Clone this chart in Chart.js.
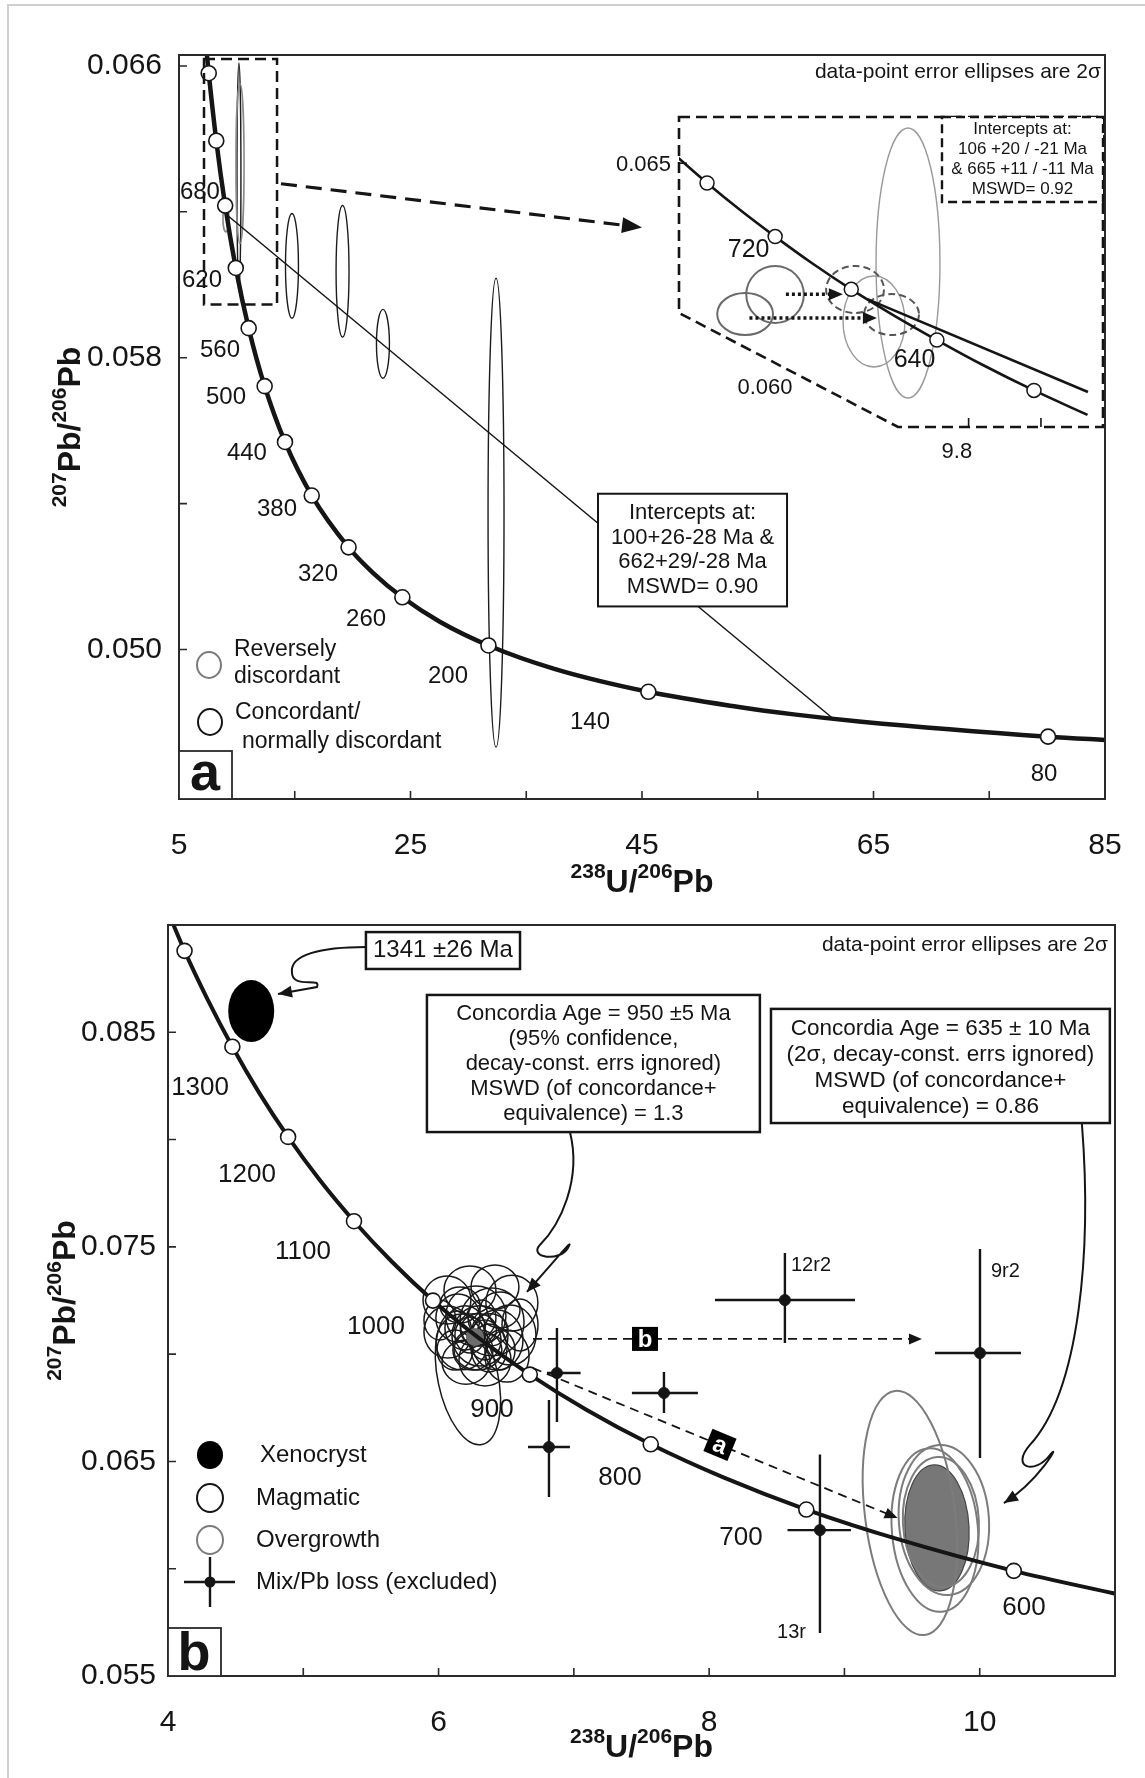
<!DOCTYPE html>
<html>
<head>
<meta charset="utf-8">
<title>Tera-Wasserburg concordia diagrams</title>
<script src="https://cdn.jsdelivr.net/npm/chart.js@4.4.1/dist/chart.umd.min.js"></script>
<style>
  html, body { margin: 0; padding: 0; background: #fff; }
  body { position: relative; width: 1145px; height: 1778px; overflow: hidden; }
  canvas { position: absolute; }
  #edge { position: absolute; left: 7px; top: 4px; width: 1160px; height: 1800px; border-left: 2px solid #cfcfcf; border-top: 2px solid #cfcfcf; }
</style>
</head>
<body>
<div id="edge"></div>
<canvas id="chartA" width="1145" height="900" style="left:0;top:0"></canvas>
<canvas id="chartB" width="1145" height="878" style="left:0;top:900px"></canvas>
<canvas id="inset" width="520" height="370" style="left:590px;top:100px"></canvas>
<script>
const FONT = '"Liberation Sans", Arial, Helvetica, sans-serif';
const INK = '#151515';

// ---------- panel a ----------
const xTicksA = [5, 15, 25, 35, 45, 55, 65, 75, 85];
const xLabelsA = [5, 25, 45, 65, 85];
const yTicksA = [0.050, 0.054, 0.058, 0.062, 0.066];
const yLabelsA = [0.050, 0.058, 0.066];

// concordia (238U/206Pb, 207Pb/206Pb)
const curveXA = [7.372, 7.568, 8.221, 8.989, 9.905, 11.019, 12.399, 14.157, 16.469, 19.649, 21.733, 24.297, 27.531, 31.735, 37.423, 45.55, 53.223, 58.105, 63.967, 80.08, 85.45];
const curveYA = [0.06643, 0.06580, 0.06395, 0.06217, 0.06046, 0.05881, 0.05722, 0.05569, 0.05422, 0.05280, 0.05211, 0.05143, 0.05076, 0.05011, 0.04947, 0.04884, 0.04843, 0.04822, 0.04802, 0.04761, 0.04751];
// age ticks on the curve
const markXA = [7.568, 8.221, 8.989, 9.905, 11.019, 12.399, 14.157, 16.469, 19.649, 24.297, 31.735, 45.55, 80.08];
const markYA = [0.06580, 0.06395, 0.06217, 0.06046, 0.05881, 0.05722, 0.05569, 0.05422, 0.05280, 0.05143, 0.05011, 0.04884, 0.04761];
const ageTextA = ['680', '620', '560', '500', '440', '380', '320', '260', '200', '140', '80'];
const ageTextXA = [6.81, 6.99, 8.54, 9.06, 10.87, 13.47, 17.01, 21.16, 28.24, 40.51, 79.73];
const ageTextYA = [0.06253, 0.06012, 0.05820, 0.05692, 0.05539, 0.05383, 0.05205, 0.05082, 0.04926, 0.04800, 0.04658];

// discordia
const discXA = [9.2, 61.6];
const discYA = [0.0619, 0.04808];

// 2 sigma ellipses: centre and half axes
const ellXA = [14.76, 19.13, 22.62, 32.39, 10.18];
const ellYA = [0.06052, 0.06037, 0.05838, 0.05375, 0.06299];
const ellRxA = [0.56, 0.56, 0.56, 0.69, 0.17];
const ellRyA = [0.001436, 0.001805, 0.000944, 0.006428, 0.00309];
const revXA = [10.27, 9.06];
const revYA = [0.06332, 0.06181];
const revRxA = [0.35, 0.26];
const revRyA = [0.00219, 0.00036];

// zoom window and pointer
const winXA = [7.16, 13.47], winYA = [0.05946, 0.06619];
const ptrXA = [13.81, 45.0], ptrYA = [0.06277, 0.06157];
const boxXA = [41.20, 57.53], boxYA = [0.05118, 0.05427];
const boxTextA = ['Intercepts at:', '100+26-28 Ma &', '662+29/-28 Ma', 'MSWD= 0.90'];

// ---------- inset of panel a ----------
const inXRange = [7.798, 10.729];
const inYRange = [0.05908, 0.06604];
const inOutlineX = [7.798, 10.729, 10.729, 9.312, 7.798];
const inOutlineY = [0.06604, 0.06604, 0.05908, 0.05908, 0.06164];
const inCurveX = [7.7746, 7.9919, 8.2211, 8.4627, 8.7183, 8.9888, 9.2759, 9.5807, 9.9054, 10.2518, 10.622];
const inCurveY = [0.065175, 0.064559, 0.063951, 0.063355, 0.062757, 0.062171, 0.061600, 0.061033, 0.060461, 0.059901, 0.059352];
const inMarkX = [7.9919, 8.4627, 8.9888, 9.5807, 10.2518];
const inMarkY = [0.064559, 0.063355, 0.062171, 0.061033, 0.059901];
const inDiscX = [9.1, 10.625];
const inDiscY = [0.06195, 0.059865];
const inLightX = [9.381, 9.146], inLightY = [0.062762, 0.061448], inLightRx = [0.221, 0.214], inLightRy = [0.003032, 0.001022];
const inDarkX = [8.462, 8.255], inDarkY = [0.062055, 0.061617], inDarkRx = [0.199, 0.193], inDarkRy = [0.00064, 0.000472];
const inDashX = [9.015, 9.267], inDashY = [0.062167, 0.061606], inDashRx = [0.200, 0.190], inDashRy = [0.000528, 0.00046];
const inArrX0 = [8.537, 8.285], inArrX1 = [8.931, 9.166], inArrY = [0.06206, 0.06153];
const inBoxX = [9.616, 10.729], inBoxY = [0.06413, 0.06604];
const inBoxText = ['Intercepts at:', '106 +20 / -21 Ma', '& 665 +11 / -11 Ma', 'MSWD= 0.92'];
const inAgeText = ['720', '640'], inAgeX = [8.279, 9.426], inAgeY = [0.06305, 0.06058];

// ---------- panel b ----------
const xTicksB = [4, 5, 6, 7, 8, 9, 10, 11];
const xLabelsB = [4, 6, 8, 10];
const yTicksB = [0.055, 0.060, 0.065, 0.070, 0.075, 0.080, 0.085, 0.090];
const yLabelsB = [0.055, 0.065, 0.075, 0.085];

const curveXB = [3.9643, 4.1223, 4.2923, 4.4758, 4.6730, 4.8877, 5.1203, 5.3748, 5.6533, 5.9589, 6.2980, 6.6743, 7.0953, 7.5683, 8.1051, 8.7183, 9.4260, 10.2518, 11.019];
const curveYB = [0.091159, 0.088796, 0.086537, 0.084327, 0.082190, 0.080124, 0.078123, 0.076194, 0.074317, 0.072495, 0.070744, 0.069047, 0.067398, 0.065800, 0.064256, 0.062757, 0.061318, 0.059901, 0.058810];
const markXB = [4.1223, 4.4758, 4.8877, 5.3748, 5.9589, 6.6743, 7.5683, 8.7183, 10.2518];
const markYB = [0.088796, 0.084327, 0.080124, 0.076194, 0.072495, 0.069047, 0.065800, 0.062757, 0.059901];
const ageTextB = ['1300', '1200', '1100', '1000', '900', '800', '700', '600'];
const ageTextXB = [4.237, 4.584, 4.998, 5.537, 6.395, 7.341, 8.235, 10.327];
const ageTextYB = [0.08240, 0.07835, 0.07476, 0.07126, 0.06740, 0.06423, 0.06143, 0.05817];

// xenocryst
const xenoX = 4.615, xenoY = 0.08599, xenoRx = 0.170, xenoRy = 0.001445;
// magmatic analyses
const magX = [6.062, 6.232, 6.417, 6.542, 6.602, 6.069, 6.173, 6.306, 6.432, 6.506, 6.343, 6.203, 6.276, 6.395, 6.143, 6.010, 6.454, 6.254, 6.373, 6.121, 6.528, 6.295,
  6.232, 6.343, 6.195, 6.380, 6.291, 6.158, 6.454, 6.321, 6.217];
const magY = [0.07252, 0.07299, 0.07313, 0.07238, 0.07136, 0.07103, 0.07057, 0.07085, 0.07066, 0.06991, 0.06973, 0.06963, 0.07178, 0.07150, 0.07168, 0.07159, 0.07206, 0.07019, 0.07029, 0.07019, 0.07089, 0.07113,
  0.07089, 0.07066, 0.07122, 0.07113, 0.07019, 0.07229, 0.07019, 0.07168, 0.06889];
const magRx = [0.177, 0.192, 0.177, 0.192, 0.133, 0.177, 0.192, 0.207, 0.192, 0.163, 0.192, 0.177, 0.222, 0.237, 0.163, 0.118, 0.148, 0.148, 0.133, 0.133, 0.192, 0.133,
  0.111, 0.118, 0.148, 0.133, 0.177, 0.148, 0.111, 0.103, 0.222];
const magRy = [0.00112, 0.00112, 0.00103, 0.00130, 0.00121, 0.00121, 0.00130, 0.00140, 0.00140, 0.00121, 0.00121, 0.00103, 0.00140, 0.00158, 0.00112, 0.00093, 0.00084, 0.00093, 0.00112, 0.00093, 0.00140, 0.00075,
  0.00084, 0.00093, 0.00103, 0.00075, 0.00093, 0.00084, 0.00093, 0.00084, 0.00317];
const magRot = [0, 0, 0, 0, 0, 0, 0, 0, 0, 0, 0, 0, 0, 0, 0, 0, 0, 0, 0, 0, 0, 0, 0, 0, 0, 0, 0, 0, 0, 0, -12];
const meanMagX = 6.269, meanMagY = 0.07080, meanMagRx = 0.067, meanMagRy = 0.00042;
// overgrowth analyses
const ovX = [9.484, 9.735, 9.669, 9.713];
const ovY = [0.06260, 0.06227, 0.06180, 0.06218];
const ovRx = [0.333, 0.333, 0.318, 0.281];
const ovRy = [0.00573, 0.00350, 0.00382, 0.00303];
const ovRot = [-7, -4, -5, -3];
const meanOvX = 9.684, meanOvY = 0.06190, meanOvRx = 0.237, meanOvRy = 0.00294;
// mixed / Pb loss, with error bars
const mixX = [6.875, 7.666, 6.816, 8.560, 10.002, 8.819];
const mixY = [0.06912, 0.06819, 0.06567, 0.07252, 0.07005, 0.06180];
const mixXlo = [6.801, 7.429, 6.661, 8.043, 9.669, 8.579];
const mixXhi = [7.05, 7.917, 6.971, 9.078, 10.305, 9.048];
const mixYlo = [0.06684, 0.06726, 0.06334, 0.07052, 0.06516, 0.05700];
const mixYhi = [0.07122, 0.06917, 0.06786, 0.07471, 0.07490, 0.06532];
const mixName = ['12r2', '9r2', '13r'];
const mixNameX = [8.605, 10.083, 8.716];
const mixNameY = [0.07415, 0.07383, 0.05705];

const box1341 = { x: [5.463, 6.602], y: [0.08795, 0.08967], text: ['1341 \u00b126 Ma'] };
const box950 = { x: [5.914, 8.375], y: [0.08035, 0.08674],
  text: ['Concordia Age = 950 \u00b15 Ma', '(95% confidence,', 'decay-const. errs ignored)', 'MSWD (of concordance+', 'equivalence) = 1.3'] };
const box635 = { x: [8.457, 10.962], y: [0.08077, 0.08609],
  text: ['Concordia Age = 635 \u00b1 10 Ma', '(2\u03c3, decay-const. errs ignored)', 'MSWD (of concordance+', 'equivalence) = 0.86'] };

// ---------- helpers ----------
function P(c, x, y) { return [c.scales.x.getPixelForValue(x), c.scales.y.getPixelForValue(y)]; }

function ell(c, x, y, rx, ry, rot, st) {
  const ctx = c.ctx;
  const [px, py] = P(c, x, y);
  const w = Math.abs(c.scales.x.getPixelForValue(x + rx) - px);
  const h = Math.abs(c.scales.y.getPixelForValue(y + ry) - py);
  ctx.save();
  ctx.beginPath();
  ctx.ellipse(px, py, w, h, rot * Math.PI / 180, 0, Math.PI * 2);
  if (st.fill) { ctx.fillStyle = st.fill; ctx.fill(); }
  if (st.stroke) { ctx.strokeStyle = st.stroke; ctx.lineWidth = st.width || 1; ctx.setLineDash(st.dash || []); ctx.stroke(); }
  ctx.restore();
}

function head(ctx, x1, y1, x2, y2, len, half) {
  const a = Math.atan2(y2 - y1, x2 - x1), ca = Math.cos(a), sa = Math.sin(a);
  ctx.beginPath();
  ctx.moveTo(x2, y2);
  ctx.lineTo(x2 - len * ca - half * sa, y2 - len * sa + half * ca);
  ctx.lineTo(x2 - len * ca + half * sa, y2 - len * sa - half * ca);
  ctx.closePath();
  ctx.fill();
}

function arrow(c, x1, y1, x2, y2, o) {
  const ctx = c.ctx;
  const [a1, b1] = P(c, x1, y1), [a2, b2] = P(c, x2, y2);
  const ang = Math.atan2(b2 - b1, a2 - a1);
  ctx.save();
  ctx.strokeStyle = INK; ctx.fillStyle = INK;
  ctx.lineWidth = o.width; ctx.setLineDash(o.dash || []);
  ctx.beginPath();
  ctx.moveTo(a1, b1);
  ctx.lineTo(a2 - o.len * 0.8 * Math.cos(ang), b2 - o.len * 0.8 * Math.sin(ang));
  ctx.stroke();
  ctx.setLineDash([]);
  head(ctx, a1, b1, a2, b2, o.len, o.half);
  ctx.restore();
}

function text(ctx, s, x, y, size, o = {}) {
  ctx.save();
  ctx.font = (o.bold ? 'bold ' : '') + size + 'px ' + FONT;
  ctx.fillStyle = o.color || INK;
  ctx.textAlign = o.align || 'center';
  ctx.textBaseline = o.base || 'middle';
  ctx.fillText(s, x, y);
  ctx.restore();
}

function box(c, xs, ys, lines, size, o = {}) {
  const ctx = c.ctx;
  const [a1, b1] = P(c, xs[0], ys[0]), [a2, b2] = P(c, xs[1], ys[1]);
  const l = Math.min(a1, a2), r = Math.max(a1, a2), t = Math.min(b1, b2), b = Math.max(b1, b2);
  ctx.save();
  ctx.fillStyle = '#fff'; ctx.fillRect(l, t, r - l, b - t);
  ctx.strokeStyle = INK; ctx.lineWidth = o.width || 2; ctx.setLineDash(o.dash || []);
  ctx.strokeRect(l, t, r - l, b - t);
  ctx.restore();
  const lh = o.lh || size * 1.15;
  const cy = (t + b) / 2 + (o.dy || 0);
  lines.forEach((s, i) => text(ctx, s, (l + r) / 2, cy + (i - (lines.length - 1) / 2) * lh, size));
}

// path in data units: first point, then groups of 3 (bezier) or 1 (line)
function curvePath(c, segs, width, arrowEnd) {
  const ctx = c.ctx;
  const p = segs.map(s => s.map(q => P(c, q[0], q[1])));
  ctx.save();
  ctx.strokeStyle = INK; ctx.fillStyle = INK; ctx.lineWidth = width;
  ctx.beginPath();
  ctx.moveTo(p[0][0][0], p[0][0][1]);
  p.slice(1).forEach(s => {
    if (s.length === 3) ctx.bezierCurveTo(s[0][0], s[0][1], s[1][0], s[1][1], s[2][0], s[2][1]);
    else ctx.lineTo(s[0][0], s[0][1]);
  });
  ctx.stroke();
  if (arrowEnd) {
    const last = p[p.length - 1], end = last[last.length - 1];
    const prev = last.length === 3 ? last[1] : p[p.length - 2][p[p.length - 2].length - 1];
    head(ctx, prev[0], prev[1], end[0], end[1], 14, 6);
  }
  ctx.restore();
}

function frameAndTicks(c, xt, yt, len) {
  const ctx = c.ctx, a = c.chartArea;
  ctx.save();
  ctx.strokeStyle = '#2a2a2a'; ctx.lineWidth = 2;
  ctx.strokeRect(a.left, a.top, a.right - a.left, a.bottom - a.top);
  ctx.lineWidth = 1.6;
  ctx.beginPath();
  xt.forEach(v => { const p = c.scales.x.getPixelForValue(v); if (p > a.left + 2 && p < a.right - 2) { ctx.moveTo(p, a.bottom); ctx.lineTo(p, a.bottom - len); } });
  yt.forEach(v => { const p = c.scales.y.getPixelForValue(v); if (p > a.top + 2 && p < a.bottom - 2) { ctx.moveTo(a.left, p); ctx.lineTo(a.left + len, p); } });
  ctx.stroke();
  ctx.restore();
}

function supTitle(ctx, parts, x, y, rotate) {
  ctx.save();
  ctx.translate(x, y);
  if (rotate) ctx.rotate(-Math.PI / 2);
  ctx.fillStyle = INK; ctx.textBaseline = 'alphabetic'; ctx.textAlign = 'left';
  const fontOf = sup => 'bold ' + (sup ? 21 : 32) + 'px ' + FONT;
  let w = 0;
  parts.forEach(p => { ctx.font = fontOf(p[1]); w += ctx.measureText(p[0]).width; });
  let cx = -w / 2;
  parts.forEach(p => { ctx.font = fontOf(p[1]); ctx.fillText(p[0], cx, p[1] ? -14 : 0); cx += ctx.measureText(p[0]).width; });
  ctx.restore();
}

function letterBox(c, letter, baseOff) {
  const ctx = c.ctx, a = c.chartArea;
  ctx.save();
  ctx.fillStyle = '#fff'; ctx.strokeStyle = '#2a2a2a'; ctx.lineWidth = 1.8;
  ctx.fillRect(a.left, a.bottom - 48, 53, 48);
  ctx.strokeRect(a.left, a.bottom - 48, 53, 48);
  ctx.restore();
  text(ctx, letter, a.left + 26, a.bottom - baseOff, 54, { bold: true, base: 'alphabetic' });
}

function axes(o) {
  const has = (arr, v) => arr.some(l => Math.abs(l - v) < 1e-9);
  return {
    x: { type: 'linear', min: o.xmin, max: o.xmax,
      afterBuildTicks: s => { s.ticks = o.xt.map(v => ({ value: v })); },
      afterFit: s => { s.height = o.xh; },
      ticks: { autoSkip: false, maxRotation: 0, minRotation: 0, padding: 21, color: INK,
        font: { family: FONT, size: 30 }, callback: v => has(o.xl, v) ? String(v) : '' },
      grid: { display: false }, border: { display: false } },
    y: { type: 'linear', min: o.ymin, max: o.ymax,
      afterBuildTicks: s => { s.ticks = o.yt.map(v => ({ value: v })); },
      afterFit: s => { s.width = o.yw; },
      ticks: { autoSkip: false, padding: o.ypad, color: INK,
        font: { family: FONT, size: 30 }, callback: v => has(o.yl, v) ? v.toFixed(3) : '' },
      grid: { display: false }, border: { display: false } }
  };
}

const pts = (xs, ys) => xs.map((x, i) => ({ x: x, y: ys[i] }));
const common = { responsive: false, animation: false, events: [], devicePixelRatio: 1,
  plugins: { legend: { display: false }, tooltip: { enabled: false } } };

// ---------- panel a chart ----------
const plotA = {
  id: 'plotA',
  beforeDatasetsDraw(c) {
    const ctx = c.ctx, a = c.chartArea;
    ctx.save();
    ctx.beginPath(); ctx.rect(a.left, a.top, a.right - a.left, a.bottom - a.top); ctx.clip();
    ellXA.forEach((x, i) => ell(c, x, ellYA[i], ellRxA[i], ellRyA[i], 0, { stroke: '#1c1c1c', width: 1.4 }));
    revXA.forEach((x, i) => ell(c, x, revYA[i], revRxA[i], revRyA[i], 0, { stroke: '#8a8a8a', width: 1.6 }));
    ctx.restore();
  },
  afterDatasetsDraw(c) {
    const ctx = c.ctx, a = c.chartArea;
    // zoom window
    const [w1, h1] = P(c, winXA[0], winYA[1]), [w2, h2] = P(c, winXA[1], winYA[0]);
    ctx.save();
    ctx.strokeStyle = INK; ctx.lineWidth = 2.5; ctx.setLineDash([11, 6]);
    ctx.strokeRect(w1, h1, w2 - w1, h2 - h1);
    ctx.restore();
    arrow(c, ptrXA[0], ptrYA[0], ptrXA[1], ptrYA[1], { width: 3.2, dash: [16, 9], len: 20, half: 8 });
    // intercept box over the discordia
    box(c, boxXA, boxYA, boxTextA, 22, { width: 2, lh: 24.5 });
    // age labels
    ageTextA.forEach((s, i) => { const [x, y] = P(c, ageTextXA[i], ageTextYA[i]); text(ctx, s, x, y, 24); });
    text(ctx, 'data-point error ellipses are 2\u03c3', a.right - 4, a.top + 17, 21, { align: 'right' });
    // legend
    const L = a.left, B = a.bottom;
    ctx.save();
    ctx.lineWidth = 2; ctx.strokeStyle = '#7a7a7a';
    ctx.beginPath(); ctx.ellipse(L + 30, B - 134, 12, 13, 0, 0, Math.PI * 2); ctx.stroke();
    ctx.strokeStyle = INK;
    ctx.beginPath(); ctx.ellipse(L + 31, B - 77, 12, 13, 0, 0, Math.PI * 2); ctx.stroke();
    ctx.restore();
    text(ctx, 'Reversely', L + 55, B - 149, 23, { align: 'left' });
    text(ctx, 'discordant', L + 55, B - 122, 23, { align: 'left' });
    text(ctx, 'Concordant/', L + 56, B - 86, 23, { align: 'left' });
    text(ctx, 'normally discordant', L + 63, B - 57, 23, { align: 'left' });
  },
  afterDraw(c) {
    const ctx = c.ctx, a = c.chartArea;
    frameAndTicks(c, xTicksA, yTicksA, 8);
    letterBox(c, 'a', 9);
    supTitle(ctx, [['238', 1], ['U/', 0], ['206', 1], ['Pb', 0]], (a.left + a.right) / 2, a.bottom + 93, false);
    supTitle(ctx, [['207', 1], ['Pb/', 0], ['206', 1], ['Pb', 0]], a.left - 99, (a.top + a.bottom) / 2, true);
  }
};

new Chart(document.getElementById('chartA'), {
  type: 'scatter',
  data: { datasets: [
    { type: 'line', data: pts(curveXA, curveYA), borderColor: INK, borderWidth: 4.5, pointRadius: 0, cubicInterpolationMode: 'monotone', order: 2 },
    { type: 'line', data: pts(discXA, discYA), borderColor: INK, borderWidth: 1.5, pointRadius: 0, order: 3 },
    { data: pts(markXA, markYA), pointRadius: 7.5, pointBackgroundColor: '#fff', pointBorderColor: INK, pointBorderWidth: 1.6, order: 0 }
  ] },
  options: Object.assign({}, common, {
    layout: { padding: { left: 0, top: 55, right: 40, bottom: 0 }, autoPadding: false },
    scales: axes({ xmin: 5, xmax: 85, xt: xTicksA, xl: xLabelsA, xh: 101,
      ymin: 0.0459, ymax: 0.0663, yt: yTicksA, yl: yLabelsA, yw: 179, ypad: 9 })
  }),
  plugins: [plotA]
});

// ---------- inset chart ----------
const plotIn = {
  id: 'plotIn',
  beforeDatasetsDraw(c) {
    const ctx = c.ctx;
    const poly = inOutlineX.map((x, i) => P(c, x, inOutlineY[i]));
    ctx.save();
    ctx.beginPath();
    poly.forEach((p, i) => i ? ctx.lineTo(p[0], p[1]) : ctx.moveTo(p[0], p[1]));
    ctx.closePath();
    ctx.fillStyle = '#fff'; ctx.fill();
    ctx.restore();
    inLightX.forEach((x, i) => ell(c, x, inLightY[i], inLightRx[i], inLightRy[i], 0, { stroke: '#9a9a9a', width: 1.4 }));
    inDarkX.forEach((x, i) => ell(c, x, inDarkY[i], inDarkRx[i], inDarkRy[i], 0, { stroke: '#6a6a6a', width: 2 }));
    inDashX.forEach((x, i) => ell(c, x, inDashY[i], inDashRx[i], inDashRy[i], 0, { stroke: '#555', width: 2, dash: [7, 4] }));
  },
  afterDatasetsDraw(c) {
    const ctx = c.ctx, a = c.chartArea;
    inArrX0.forEach((x, i) => arrow(c, x, inArrY[i], inArrX1[i], inArrY[i], { width: 3.5, dash: [3, 3], len: 14, half: 6 }));
    const poly = inOutlineX.map((x, i) => P(c, x, inOutlineY[i]));
    ctx.save();
    ctx.strokeStyle = INK; ctx.lineWidth = 2.6; ctx.setLineDash([11, 6]);
    ctx.beginPath();
    poly.forEach((p, i) => i ? ctx.lineTo(p[0], p[1]) : ctx.moveTo(p[0], p[1]));
    ctx.closePath(); ctx.stroke();
    ctx.restore();
    box(c, inBoxX, inBoxY, inBoxText, 17, { width: 2.4, dash: [9, 5], lh: 20 });
    inAgeText.forEach((s, i) => { const [x, y] = P(c, inAgeX[i], inAgeY[i]); text(ctx, s, x, y, 25); });
    // small axis marks of the inset
    const y65 = c.scales.y.getPixelForValue(0.065);
    const x98 = c.scales.x.getPixelForValue(9.8), x103 = c.scales.x.getPixelForValue(10.3);
    ctx.save();
    ctx.strokeStyle = INK; ctx.lineWidth = 1.6;
    ctx.beginPath();
    ctx.moveTo(a.left, y65); ctx.lineTo(a.left + 8, y65);
    ctx.moveTo(x98, a.bottom); ctx.lineTo(x98, a.bottom - 9);
    ctx.moveTo(x103, a.bottom); ctx.lineTo(x103, a.bottom - 9);
    ctx.stroke();
    ctx.restore();
    text(ctx, '0.065', a.left - 8, y65 + 2, 22, { align: 'right' });
    const [gx, gy] = P(c, 8.392, 0.05995);
    text(ctx, '0.060', gx, gy, 22);
    text(ctx, '9.8', c.scales.x.getPixelForValue(9.719), a.bottom + 25, 22);
  }
};

new Chart(document.getElementById('inset'), {
  type: 'scatter',
  data: { datasets: [
    { type: 'line', data: pts(inCurveX, inCurveY), borderColor: INK, borderWidth: 2.6, pointRadius: 0, cubicInterpolationMode: 'monotone', order: 2 },
    { type: 'line', data: pts(inDiscX, inDiscY), borderColor: INK, borderWidth: 2.6, pointRadius: 0, order: 1 },
    { data: pts(inMarkX, inMarkY), pointRadius: 7, pointBackgroundColor: '#fff', pointBorderColor: INK, pointBorderWidth: 1.5, order: 0 }
  ] },
  options: Object.assign({}, common, {
    layout: { padding: { left: 89, top: 17, right: 7, bottom: 43 }, autoPadding: false },
    scales: {
      x: { type: 'linear', display: false, min: inXRange[0], max: inXRange[1] },
      y: { type: 'linear', display: false, min: inYRange[0], max: inYRange[1] }
    }
  }),
  plugins: [plotIn]
});

// ---------- panel b chart ----------
const plotB = {
  id: 'plotB',
  beforeDatasetsDraw(c) {
    const ctx = c.ctx, a = c.chartArea;
    ctx.save();
    ctx.beginPath(); ctx.rect(a.left, a.top, a.right - a.left, a.bottom - a.top); ctx.clip();
    ell(c, xenoX, xenoY, xenoRx, xenoRy, 0, { fill: '#000' });
    magX.forEach((x, i) => ell(c, x, magY[i], magRx[i], magRy[i], magRot[i], { stroke: '#1a1a1a', width: 1.5 }));
    ell(c, meanMagX, meanMagY, meanMagRx, meanMagRy, 0, { fill: '#6c6c6c' });
    ell(c, meanOvX, meanOvY, meanOvRx, meanOvRy, -3, { fill: '#777', stroke: '#444', width: 1.2 });
    ovX.forEach((x, i) => ell(c, x, ovY[i], ovRx[i], ovRy[i], ovRot[i], { stroke: '#7c7c7c', width: 2 }));
    // error bars of the excluded analyses
    ctx.strokeStyle = INK; ctx.lineWidth = 2.4;
    ctx.beginPath();
    mixX.forEach((x, i) => {
      const [l, yy] = P(c, mixXlo[i], mixY[i]), [r] = P(c, mixXhi[i], mixY[i]);
      const [xx, t] = P(c, x, mixYhi[i]), [, b] = P(c, x, mixYlo[i]);
      ctx.moveTo(l, yy); ctx.lineTo(r, yy);
      ctx.moveTo(xx, t); ctx.lineTo(xx, b);
    });
    ctx.stroke();
    ctx.restore();
  },
  afterDatasetsDraw(c) {
    const ctx = c.ctx, a = c.chartArea;
    // dashed paths a and b
    arrow(c, 6.698, 0.07071, 9.573, 0.07071, { width: 1.8, dash: [9, 6], len: 13, half: 5.5 });
    arrow(c, 6.698, 0.06935, 9.393, 0.06236, { width: 1.8, dash: [9, 6], len: 13, half: 5.5 });
    const tags = [['b', 7.526, 0.07071, 0], ['a', 8.080, 0.06577, 22.4]];
    tags.forEach(t => {
      const [x, y] = P(c, t[1], t[2]);
      ctx.save();
      ctx.translate(x, y); ctx.rotate(t[3] * Math.PI / 180);
      ctx.fillStyle = '#000'; ctx.fillRect(-13, -12, 26, 24);
      ctx.restore();
      ctx.save();
      ctx.translate(x, y); ctx.rotate(t[3] * Math.PI / 180);
      text(ctx, t[0], 0, 1, 24, { bold: true, color: '#fff' });
      ctx.restore();
    });
    // callouts
    curvePath(c, [[[5.463, 0.08898]], [[5.123, 0.08898], [4.902, 0.08860], [4.916, 0.08781]],
      [[4.916, 0.08697], [5.138, 0.08762], [5.101, 0.08711]], [[4.813, 0.08678]]], 2, true);
    curvePath(c, [[[6.971, 0.08035]], [[7.060, 0.07812], [6.897, 0.07602], [6.749, 0.07509]],
      [[6.661, 0.07448], [6.897, 0.07429], [6.956, 0.07495]], [[7.008, 0.07551], [6.897, 0.07462], [6.653, 0.07290]]], 2, true);
    curvePath(c, [[[10.755, 0.08077]], [[10.829, 0.07485], [10.741, 0.06833], [10.371, 0.06577]],
      [[10.223, 0.06469], [10.408, 0.06437], [10.519, 0.06530]], [[10.608, 0.06600], [10.445, 0.06413], [10.179, 0.06306]]], 2, true);
    box(c, box1341.x, box1341.y, box1341.text, 24, { width: 2.5 });
    box(c, box950.x, box950.y, box950.text, 22, { width: 2.5, lh: 25 });
    box(c, box635.x, box635.y, box635.text, 22.5, { width: 2.5, lh: 26, dy: 2 });
    // labels
    ageTextB.forEach((s, i) => { const [x, y] = P(c, ageTextXB[i], ageTextYB[i]); text(ctx, s, x, y, 26); });
    mixName.forEach((s, i) => {
      const [x, y] = P(c, mixNameX[i], mixNameY[i]);
      text(ctx, s, x, y, 20, { align: i === 2 ? 'right' : 'left' });
    });
    text(ctx, 'data-point error ellipses are 2\u03c3', a.right - 7, a.top + 20, 21, { align: 'right' });
    // legend
    const L = a.left, B = a.bottom;
    ctx.save();
    ctx.fillStyle = '#000';
    ctx.beginPath(); ctx.ellipse(L + 42, B - 221, 13, 14, 0, 0, Math.PI * 2); ctx.fill();
    ctx.lineWidth = 2; ctx.strokeStyle = INK;
    ctx.beginPath(); ctx.ellipse(L + 42, B - 178, 13, 14, 0, 0, Math.PI * 2); ctx.stroke();
    ctx.strokeStyle = '#7c7c7c';
    ctx.beginPath(); ctx.ellipse(L + 42, B - 136, 13, 14, 0, 0, Math.PI * 2); ctx.stroke();
    ctx.strokeStyle = INK; ctx.lineWidth = 2.4;
    ctx.beginPath();
    ctx.moveTo(L + 16, B - 94); ctx.lineTo(L + 67, B - 94);
    ctx.moveTo(L + 42, B - 119); ctx.lineTo(L + 42, B - 69);
    ctx.stroke();
    ctx.fillStyle = INK;
    ctx.beginPath(); ctx.arc(L + 42, B - 94, 5.5, 0, Math.PI * 2); ctx.fill();
    ctx.restore();
    text(ctx, 'Xenocryst', L + 92, B - 221, 24, { align: 'left' });
    text(ctx, 'Magmatic', L + 88, B - 178, 24, { align: 'left' });
    text(ctx, 'Overgrowth', L + 88, B - 136, 24, { align: 'left' });
    text(ctx, 'Mix/Pb loss (excluded)', L + 88, B - 94, 24, { align: 'left' });
  },
  afterDraw(c) {
    const ctx = c.ctx, a = c.chartArea;
    frameAndTicks(c, xTicksB, yTicksB, 8);
    letterBox(c, 'b', 6);
    supTitle(ctx, [['238', 1], ['U/', 0], ['206', 1], ['Pb', 0]], (a.left + a.right) / 2, a.bottom + 81, false);
    supTitle(ctx, [['207', 1], ['Pb/', 0], ['206', 1], ['Pb', 0]], a.left - 93, (a.top + a.bottom) / 2, true);
  }
};

new Chart(document.getElementById('chartB'), {
  type: 'scatter',
  data: { datasets: [
    { type: 'line', data: pts(curveXB, curveYB), borderColor: INK, borderWidth: 4, pointRadius: 0, cubicInterpolationMode: 'monotone', order: 2 },
    { data: pts(mixX, mixY), pointRadius: 5.5, pointBackgroundColor: INK, pointBorderColor: INK, order: 1 },
    { data: pts(markXB, markYB), pointRadius: 7.5, pointBackgroundColor: '#fff', pointBorderColor: INK, pointBorderWidth: 1.6, order: 0 }
  ] },
  options: Object.assign({}, common, {
    layout: { padding: { left: 0, top: 25, right: 30, bottom: 0 }, autoPadding: false },
    scales: axes({ xmin: 4, xmax: 11, xt: xTicksB, xl: xLabelsB, xh: 102,
      ymin: 0.055, ymax: 0.090, yt: yTicksB, yl: yLabelsB, yw: 168, ypad: 4 })
  }),
  plugins: [plotB]
});
</script>
</body>
</html>
